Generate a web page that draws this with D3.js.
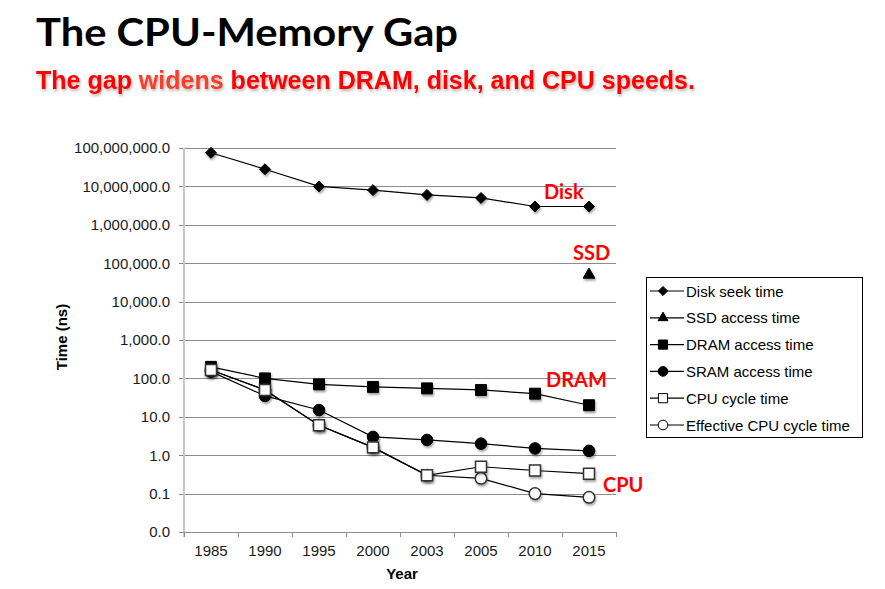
<!DOCTYPE html>
<html><head><meta charset="utf-8">
<script src="https://cdn.jsdelivr.net/npm/d3@7"></script>
<style>
body{margin:0;background:#fff;}
svg{display:block;}
</style></head>
<body>
<script>
const years = ["1985","1990","1995","2000","2003","2005","2010","2015"];
const diskSeek = [75000000, 28000000, 10000000, 8000000, 6000000, 5000000, 3000000, 3000000];
const ssdAccess = [null, null, null, null, null, null, null, 50000];
const dramAccess = [200, 100, 70, 60, 55, 50, 40, 20];
const sramAccess = [150, 35, 15, 3, 2.5, 2, 1.5, 1.3];
const cpuCycle = [166, 50, 6, 1.6, 0.3, 0.5, 0.4, 0.33];
const effCpuCycle = [166, 50, 6, 1.6, 0.3, 0.25, 0.1, 0.08];
const yTickValues = [100000000, 10000000, 1000000, 100000, 10000, 1000, 100, 10, 1, 0.1, 0.01];
const yTickLabels = ["100,000,000.0","10,000,000.0","1,000,000.0","100,000.0","10,000.0","1,000.0","100.0","10.0","1.0","0.1","0.0"];
const seriesNames = ["Disk seek time","SSD access time","DRAM access time","SRAM access time","CPU cycle time","Effective CPU cycle time"];
const annotations = [["Disk", "2010", 3000000], ["SSD", "2015", 50000], ["DRAM", "2010", 40], ["CPU", "2015", 0.33]];

const W = 885, H = 589;
const svg = d3.select("body").append("svg").attr("width", W).attr("height", H);
const defs = svg.append("defs");
const f = defs.append("filter").attr("id","sh").attr("x","-50%").attr("y","-50%").attr("width","200%").attr("height","200%");
f.append("feDropShadow").attr("dx",1).attr("dy",2).attr("stdDeviation",1.2).attr("flood-color","#000").attr("flood-opacity",0.35);
const f2 = defs.append("filter").attr("id","tsh").attr("x","-5%").attr("y","-20%").attr("width","110%").attr("height","150%");
f2.append("feDropShadow").attr("dx",1).attr("dy",2).attr("stdDeviation",1.5).attr("flood-color","#000").attr("flood-opacity",0.3);

const FONT = "'Liberation Sans', Arial, sans-serif";

// Titles
svg.append("text").attr("x",36).attr("y",46).attr("font-family","Lato, 'Open Sans', sans-serif")
  .attr("font-weight","bold").attr("font-size",39).attr("fill","#000")
  .attr("textLength",422).attr("lengthAdjust","spacingAndGlyphs").text("The CPU-Memory Gap");
const sub = svg.append("text").attr("x",36).attr("y",89).attr("font-family",FONT)
  .attr("font-weight","bold").attr("font-size",26.5).attr("fill","#ff0000").attr("filter","url(#tsh)")
  .attr("textLength",659).attr("lengthAdjust","spacingAndGlyphs");
sub.append("tspan").text("The gap ");
sub.append("tspan").attr("fill","#ff3a2a").text("widens");
sub.append("tspan").text(" between DRAM, disk, and CPU speeds.");

const x0 = 184, x1 = 616, yTop = 148, yBot = 532;
const x = d3.scaleBand().domain(years).range([x0, x1]).padding(0);
const y = d3.scaleLog().domain([0.01, 1e8]).range([yBot, yTop]);

// Grid
svg.append("g").selectAll("line").data(yTickValues.filter(v => v > 0.01)).join("line")
  .attr("x1", x0-5).attr("x2", x1).attr("y1", d => Math.round(y(d))+0.5).attr("y2", d => Math.round(y(d))+0.5)
  .attr("stroke","#8c8c8c").attr("stroke-width",1);
// Y axis line
svg.append("line").attr("x1",x0).attr("x2",x0).attr("y1",yTop).attr("y2",yBot+5).attr("stroke","#c8c8c8").attr("stroke-width",2);
// Y axis labels
const yAxis = d3.axisLeft(y).tickValues(yTickValues).tickFormat((d,i) => yTickLabels[i]).tickSize(0).tickPadding(14);
const yg = svg.append("g").attr("transform",`translate(${x0},0)`).call(yAxis);
yg.select(".domain").remove();
yg.selectAll("text").attr("font-family",FONT).attr("font-size",15).attr("fill","#1a1a1a");
yg.selectAll("line").remove();
svg.append("line").attr("x1",x0-5).attr("x2",x0).attr("y1",yBot+0.5).attr("y2",yBot+0.5).attr("stroke","#8c8c8c");

// X axis
const xAxis = d3.axisBottom(x).tickSize(0).tickPadding(13).tickSizeOuter(0);
const xg = svg.append("g").attr("transform",`translate(0,${yBot})`).call(xAxis);
xg.select(".domain").attr("stroke","#8c8c8c").attr("d", `M${x0},0.5H${x1}`);
xg.selectAll("text").attr("font-family",FONT).attr("font-size",15).attr("fill","#1a1a1a");
const bounds = years.map(d => x(d)).concat([x1]);
svg.append("g").selectAll("line").data(bounds).join("line")
  .attr("x1", d => d+0.5).attr("x2", d => d+0.5).attr("y1", yBot).attr("y2", yBot+5)
  .attr("stroke","#8c8c8c");

// Axis titles
svg.append("text").attr("x",402).attr("y",579).attr("text-anchor","middle")
  .attr("font-family",FONT).attr("font-weight","bold").attr("font-size",15).text("Year");
svg.append("text").attr("transform","translate(67,337) rotate(-90)").attr("text-anchor","middle")
  .attr("font-family",FONT).attr("font-weight","bold").attr("font-size",15).text("Time (ns)");

const cx = d => x(d) + x.bandwidth()/2;
const series = [
  {name: seriesNames[0], vals: diskSeek, shape: "diamond", fill: "#000"},
  {name: seriesNames[1], vals: ssdAccess, shape: "triangle", fill: "#000"},
  {name: seriesNames[2], vals: dramAccess, shape: "square", fill: "#000"},
  {name: seriesNames[3], vals: sramAccess, shape: "circle", fill: "#000"},
  {name: seriesNames[5], vals: effCpuCycle, shape: "circle", fill: "#fff"},
  {name: seriesNames[4], vals: cpuCycle, shape: "square", fill: "#fff"}
];
const diamondSym = { draw(ctx, size) { const r = Math.sqrt(size/2); ctx.moveTo(0,-r); ctx.lineTo(r,0); ctx.lineTo(0,r); ctx.lineTo(-r,0); ctx.closePath(); } };
const symbolFor = s => ({diamond: diamondSym, triangle: d3.symbolTriangle, square: d3.symbolSquare, circle: d3.symbolCircle})[s];
const sizeFor = s => ({diamond: 60, triangle: 60, square: 120, circle: 105})[s];

const line = d3.line().defined(d => d.v != null).x(d => cx(d.yr)).y(d => y(d.v));
const gLines = svg.append("g");
const gMarks = svg.append("g");
series.forEach(s => {
  const pts = years.map((yr,i) => ({yr, v: s.vals[i]}));
  gLines.append("path").datum(pts).attr("d", line).attr("fill","none").attr("stroke","#000").attr("stroke-width",1.2);
});
series.forEach(s => {
  const pts = years.map((yr,i) => ({yr, v: s.vals[i]})).filter(d => d.v != null);
  gMarks.append("g").selectAll("path").data(pts).join("path")
    .attr("transform", d => `translate(${cx(d.yr)},${y(d.v)})`)
    .attr("d", d3.symbol(symbolFor(s.shape), sizeFor(s.shape)))
    .attr("fill", s.fill).attr("stroke", s.fill === "#fff" ? "#333" : "#000").attr("stroke-width", s.fill === "#fff" ? 1.5 : 1)
    .attr("filter","url(#sh)");
});

// Annotations
const annOff = {Disk: [9, -7], SSD: [-16, -15], DRAM: [11, -7], CPU: [14, 18]};
annotations.forEach(([t, yr, v]) => {
  const o = annOff[t];
  svg.append("text").attr("x", cx(yr) + o[0]).attr("y", y(v) + o[1])
    .attr("font-family","Lato, 'Open Sans', sans-serif").attr("font-weight","bold").attr("font-size",20)
    .attr("fill","#ff0000").text(t);
});

// Legend
const lg = svg.append("g").attr("transform","translate(646,277)");
lg.append("rect").attr("x",0.5).attr("y",0.5).attr("width",216).attr("height",160).attr("fill","#fff").attr("stroke","#000").attr("stroke-width",1);
const legendOrder = [0,1,2,3,5,4];
legendOrder.forEach((si, i) => {
  const s = series[si];
  const yy = 14 + i*26.8;
  lg.append("line").attr("x1",4).attr("x2",38).attr("y1",yy).attr("y2",yy).attr("stroke","#000").attr("stroke-width",1.2);
  lg.append("path").attr("transform",`translate(17,${yy})`).attr("d", d3.symbol(symbolFor(s.shape), sizeFor(s.shape)*0.7))
    .attr("fill", s.fill).attr("stroke", "#000").attr("stroke-width",1);
  lg.append("text").attr("x",40).attr("y",yy+5.5).attr("font-family",FONT).attr("font-size",15).text(s.name);
});
</script>
</body></html>
